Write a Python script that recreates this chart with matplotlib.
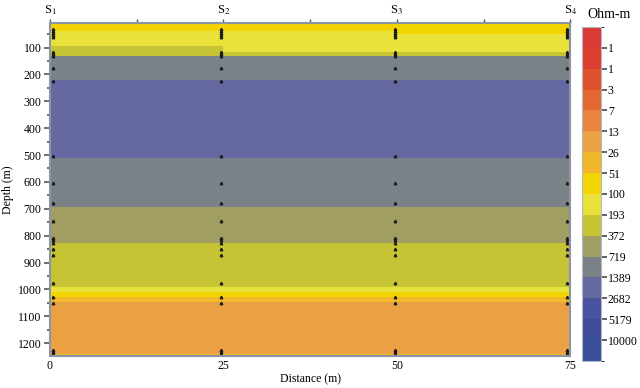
import numpy as np
import matplotlib
matplotlib.use("Agg")
from matplotlib import pyplot as plt
from matplotlib.colors import ListedColormap, BoundaryNorm
from matplotlib.cm import ScalarMappable

plt.rcParams['font.family'] = ['Liberation Serif', 'DejaVu Serif']
plt.rcParams['mathtext.fontset'] = 'stix'

# resistivity classes, top (red) to bottom (blue) of the colour scale
class_colors = ['#dc3a32', '#dc3e30', '#e0522e', '#e46834', '#e8843e', '#eca044',
                '#f0b82a', '#f2d400', '#e8e23a', '#c6c434', '#a09e62', '#7a8288',
                '#6668a2', '#4a52a0', '#3e4c9c', '#3a4e9c']
cb_labels = ['1', '1', '3', '7', '13', '26', '51', '100', '193', '372', '719',
             '1389', '2682', '5179', '10000']

# model geometry
x_edges = [0, 25, 50, 75]
depth_edges = [10, 38, 50, 93, 116, 130, 222, 510, 692, 828, 990, 1010, 1028, 1048, 1240, 1248]
layer_class = [
    [7, 7, 7],
    [8, 8, 7],
    [8, 8, 8],
    [9, 8, 8],
    [9, 9, 9],
    [11, 11, 11],
    [12, 12, 12],
    [11, 11, 11],
    [10, 10, 10],
    [9, 9, 9],
    [8, 8, 8],
    [7, 7, 7],
    [6, 6, 6],
    [5, 5, 5],
    [6, 6, 6],
]

# sounding stations and the depths marked on them
station_x = [0.4, 24.7, 49.7, 74.6]
station_names = ['S$_1$', 'S$_2$', 'S$_3$', 'S$_4$']
marker_depths = [30, 38, 45, 52, 60, 118, 125, 132, 175, 225, 505, 605, 680, 745,
                 810, 818, 826, 850, 873, 978, 1028, 1050, 1225, 1232, 1240]

cmap = ListedColormap(class_colors)
norm = BoundaryNorm(np.arange(17) - 0.5, 16)

fig = plt.figure(figsize=(6.4, 3.88), dpi=100)
ax = fig.add_axes([0.078, 0.0825, 0.813, 0.8585])
ax.pcolormesh(x_edges, depth_edges, np.array(layer_class), cmap=cmap, norm=norm)

for xs in station_x:
    ax.plot([xs] * len(marker_depths), marker_depths, linestyle='none', marker='^',
            ms=1.8, color='#1a1a1a', mec='#1a1a1a')

ax.set_xlim(0, 75)
ax.set_ylim(1248, 8)
ax.set_xticks([0, 25, 50, 75])
ax.set_yticks(np.arange(100, 1300, 100))
ax.set_yticks(np.arange(50, 1250, 50), minor=True)
ax.tick_params(axis='x', length=0, labelsize=8.5, pad=3)
ax.tick_params(axis='y', which='major', length=4, width=1.2, color='#555555', labelsize=8.5, pad=2)
ax.tick_params(axis='y', which='minor', length=2.5, width=1.2, color='#555555')
ax.set_xlabel('Distance (m)', fontsize=8.5, labelpad=1)
ax.set_ylabel('Depth (m)', fontsize=8.5, labelpad=3)
for sp in ax.spines.values():
    sp.set_color('#8a94a4')
    sp.set_linewidth(1.5)

top = ax.secondary_xaxis('top')
top.set_xticks([0, 25, 50, 75], labels=station_names)
top.set_xticks([12.5, 37.5, 62.5], minor=True)
top.tick_params(which='both', length=3, width=1, color='#555555', labelsize=9, pad=1)
top.spines['top'].set_visible(False)

cax = fig.add_axes([0.909, 0.0696, 0.030, 0.861])
cb = fig.colorbar(ScalarMappable(norm=norm, cmap=cmap), cax=cax)
cax.invert_yaxis()
cb.set_ticks(np.arange(15) + 0.5, labels=cb_labels)
cb.ax.tick_params(length=4, width=1.2, color='#444444', labelsize=8.5, pad=1)
cb.outline.set_edgecolor('#b0b8c8')
fig.text(0.918, 0.945, 'Ohm-m', fontsize=10, ha='left', va='bottom')

fig.savefig('out.png', dpi=100)
